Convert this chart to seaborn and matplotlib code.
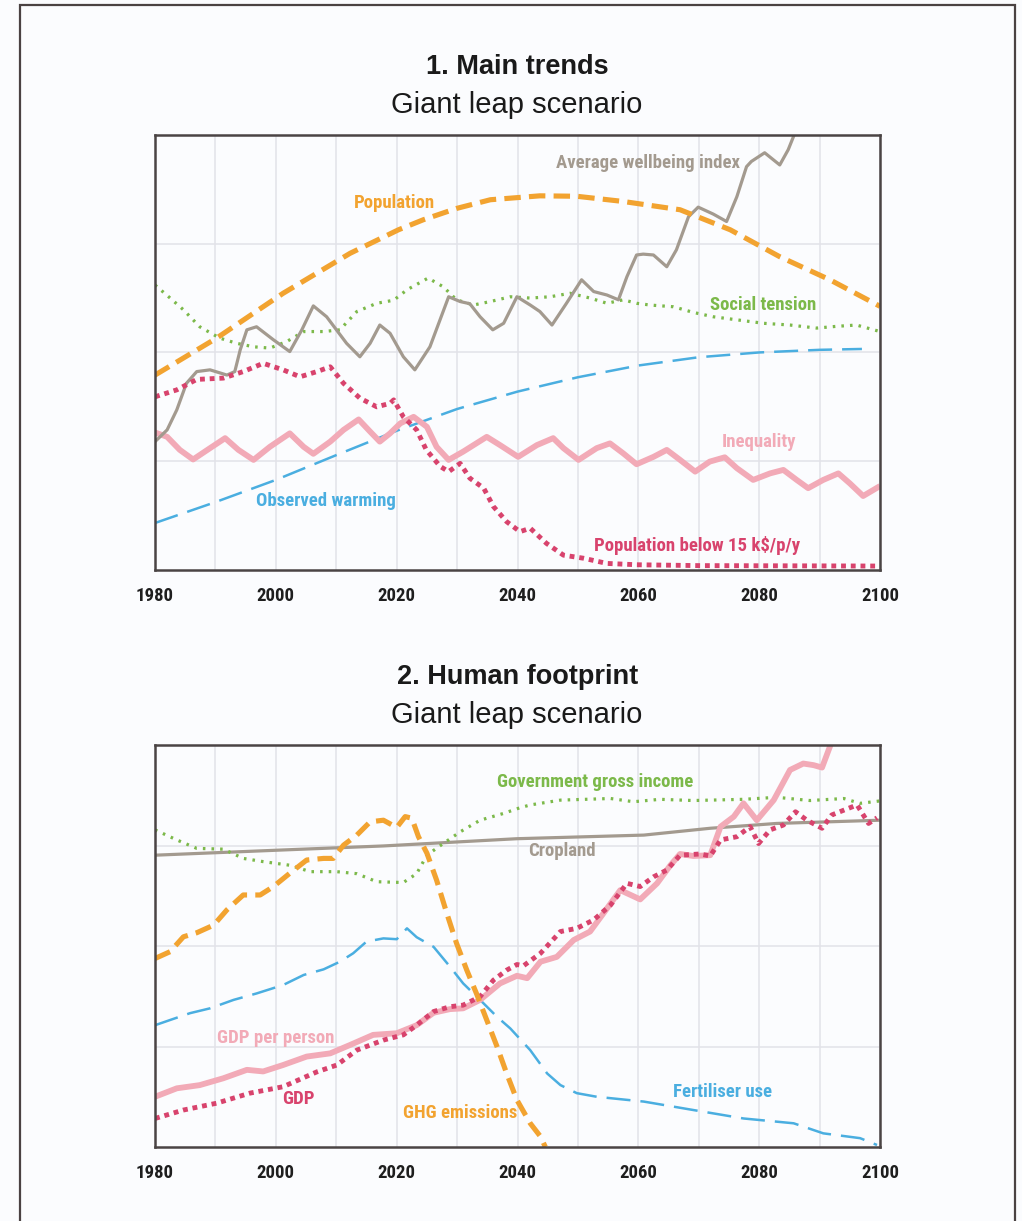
import matplotlib
matplotlib.use("Agg")
import matplotlib.pyplot as plt
from matplotlib.patches import Rectangle
import pandas as pd
import seaborn as sns

sns.set_theme(style="whitegrid")
plt.rcParams['font.family'] = ['Liberation Sans', 'DejaVu Sans']
NARROW = ['Roboto Condensed', 'IBM Plex Sans Condensed', 'Barlow Semi Condensed',
          'Asap Condensed', 'Liberation Sans']

ORANGE = '#f2a330'
GREY = '#a39a8f'
GREEN = '#7cb94a'
BLUE = '#4aaee0'
PINK = '#f2aab7'
CRIMSON = '#d8436d'
BG = '#fbfcfe'

YEAR_TICKS = [1980, 2000, 2020, 2040, 2060, 2080, 2100]

# ---------------- panel 1: main trends (index, 0-100 of plot height)
pop_years = [1980, 1990.2, 2001.2, 2012.3, 2020.3, 2024.4, 2029.9, 2035.5, 2043.7, 2049.8,
             2057.5, 2066.9, 2075.2, 2083.4, 2091.7, 2100]
pop_values = [44.8, 53.3, 63.6, 72.8, 78.2, 80.5, 83.1, 85.1, 86.0, 85.9,
              84.7, 82.8, 78.2, 72.0, 66.7, 60.6]

warm_years = [1980, 1990, 2000, 2010, 2020, 2030, 2040, 2050, 2060, 2070, 2080, 2090, 2097]
warm_values = [10.8, 15.6, 20.7, 26.4, 32.0, 37.0, 41.0, 44.3, 47.0, 48.9, 50.0, 50.6, 50.8]

tension_years = [1980, 1982.5, 1984.7, 1987.4, 1990.7, 1993.5, 1996.3, 1999, 2001.8, 2004.6,
                 2007.9, 2010.6, 2013.4, 2016.7, 2019.5, 2021.7, 2025.2, 2027.7, 2029.9, 2032.7,
                 2035.5, 2038.8, 2042.1, 2045.4, 2048.7, 2052, 2054.8, 2057.5, 2059.7, 2061.9,
                 2065.8, 2069.1, 2072.4, 2076.3, 2080.7, 2085.1, 2089.5, 2092.8, 2096.1, 2100]
tension_values = [65.5, 62.5, 59.8, 55.9, 53.3, 52.1, 51.3, 51.0, 52.5, 54.8,
                  54.8, 55.2, 59.4, 61.3, 62.0, 64.4, 67.1, 65.1, 62.1, 60.9,
                  61.7, 62.8, 62.5, 62.8, 63.6, 62.5, 61.3, 62.1, 61.3, 60.9,
                  60.5, 59.2, 58.2, 57.5, 56.7, 56.3, 55.6, 56.0, 56.3, 54.8]

wellbeing_years = [1980, 1982, 1983.6, 1985.2, 1986.9, 1989.1, 1991.9, 1993.2, 1994.1, 1995.2,
                   1996.8, 1999.6, 2002.3, 2004.3, 2006.2, 2008.4, 2011.7, 2013.9, 2015.6, 2017.2,
                   2018.9, 2021.1, 2023, 2025.5, 2028.6, 2030.5, 2032.1, 2033.8, 2035.9, 2037.7,
                   2039.9, 2042.1, 2043.7, 2045.7, 2048.1, 2050.6, 2052.6, 2054.8, 2056.7, 2058.1,
                   2059.7, 2060.8, 2062.5, 2064.7, 2066.3, 2068.3, 2069.9, 2072.4, 2074.6, 2076.3,
                   2077.9, 2078.7, 2080.9, 2083.4, 2084.8, 2085.9, 2088]
wellbeing_values = [29.5, 32.2, 36.8, 42.9, 45.6, 46.0, 44.8, 45.6, 50.6, 55.2,
                    55.9, 52.9, 50.2, 55.2, 60.7, 58.2, 52.1, 49.0, 52.1, 56.3,
                    54.4, 49.0, 46.0, 51.3, 62.8, 61.7, 61.2, 58.2, 55.2, 56.7,
                    62.8, 60.9, 59.4, 56.3, 61.3, 66.7, 64.0, 63.2, 62.1, 67.4,
                    72.4, 72.6, 72.4, 69.7, 73.6, 81.2, 83.4, 81.8, 80.1, 85.8,
                    92.7, 93.9, 95.9, 93.1, 96.6, 100.4, 110.0]

inequality_years = [1980, 1982, 1984.1, 1986.3, 1989.1, 1991.6, 1993.8, 1996.3, 1999, 2002.3,
                    2004.6, 2006.2, 2009, 2011.2, 2013.7, 2015.6, 2017.2, 2018.9, 2020.6, 2022.8,
                    2025, 2026.6, 2028.6, 2031, 2034.9, 2037.1, 2040.1, 2043.2, 2045.9, 2047.6,
                    2050.1, 2053.1, 2055.3, 2057.5, 2059.7, 2062.5, 2064.7, 2066.9, 2069.4, 2071.8,
                    2074.3, 2076.3, 2079, 2081.8, 2084, 2086.2, 2088.1, 2090.6, 2093.1, 2095,
                    2097.2, 2100]
inequality_values = [31.6, 30.6, 27.6, 25.4, 28.0, 30.3, 27.6, 25.3, 28.3, 31.4,
                     28.3, 26.7, 29.5, 32.2, 34.6, 31.8, 29.5, 31.4, 33.7, 35.2,
                     32.9, 28.3, 25.3, 27.2, 30.6, 28.7, 26.0, 28.7, 30.3, 28.0,
                     25.3, 28.0, 29.1, 26.8, 24.3, 26.0, 27.6, 25.3, 22.6, 24.9,
                     25.9, 23.4, 20.7, 22.2, 23.0, 20.7, 18.8, 20.7, 22.2, 19.9,
                     17.0, 19.3]

poor_years = [1980, 1983.6, 1986.9, 1991.3, 1994.6, 1997.9, 2001.2, 2004, 2006.8, 2009,
              2011.2, 2013.9, 2016.7, 2018.9, 2019.5, 2021.1, 2023.3, 2024.9, 2027.2, 2028.6,
              2030.5, 2032.1, 2034.4, 2036, 2038.2, 2040.4, 2042.1, 2044.8, 2047.6, 2050.9,
              2054.8, 2059.7, 2070, 2100]
poor_values = [39.8, 41.4, 43.8, 44.1, 45.6, 47.5, 46.0, 44.4, 45.6, 46.7,
               42.9, 39.5, 37.5, 38.3, 39.1, 35.2, 32.2, 27.6, 23.8, 22.6,
               24.5, 21.1, 18.8, 14.6, 11.1, 8.8, 9.6, 6.1, 3.4, 2.7,
               1.5, 1.2, 1.0, 0.9]

# ---------------- panel 2: human footprint
crop_years = [1980, 2001.2, 2017.8, 2039.9, 2060.9, 2071.9, 2082.9, 2100]
crop_values = [72.6, 73.9, 74.9, 76.7, 77.6, 79.3, 80.5, 81.3]

gov_years = [1980, 1983.6, 1986.9, 1991.3, 1994.6, 1997.9, 2002.3, 2005.7, 2010.1, 2013.4,
             2016.7, 2021.1, 2023.3, 2025, 2027.7, 2030.5, 2033.8, 2037.7, 2040.4, 2042.1,
             2047.1, 2055.4, 2059.2, 2063.6, 2069.1, 2077.4, 2082.9, 2088.4, 2094, 2096.7, 2100]
gov_values = [78.9, 76.4, 74.3, 74.1, 71.8, 71.0, 70.1, 68.5, 68.5, 68.0,
              66.0, 65.8, 68.0, 72.6, 75.5, 78.4, 81.3, 83.0, 84.4, 85.1,
              86.3, 86.7, 85.9, 86.5, 86.2, 86.5, 87.0, 86.2, 86.7, 85.5, 86.1]

ghg_years = [1980, 1982.5, 1984.7, 1986.9, 1989.7, 1991.9, 1994.6, 1997.4, 1999.6, 2002.3,
             2005.1, 2007.9, 2009.5, 2011.2, 2013.4, 2015.6, 2017.8, 2020, 2021.4, 2022.5,
             2023.6, 2025, 2026.6, 2028.3, 2029.9, 2031.6, 2033.2, 2034.9, 2036.6, 2038.2,
             2039.9, 2042.1, 2043.8, 2044.6]
ghg_values = [46.9, 48.6, 52.3, 53.3, 55.2, 59.0, 62.7, 62.7, 64.8, 68.1,
              71.4, 71.8, 71.8, 75.1, 77.6, 80.9, 81.3, 79.5, 82.2, 81.8,
              77.2, 73.1, 66.4, 58.1, 50.7, 44.0, 38.2, 31.6, 25.0, 18.3,
              11.7, 5.9, 2.6, 0.0]

fert_years = [1980, 1982.5, 1985.8, 1989.1, 1993, 1996.8, 2001.2, 2004.6, 2007.9, 2010.6,
              2012.8, 2015, 2017.8, 2020, 2021.7, 2023.3, 2026.1, 2028.8, 2031, 2033.8,
              2036.6, 2038.8, 2042.1, 2044.9, 2047.1, 2049.8, 2053.1, 2060.9, 2069.1, 2077.4,
              2085.7, 2090.6, 2096.7, 2099.5]
fert_values = [30.3, 31.6, 33.3, 34.5, 36.6, 38.2, 40.3, 42.8, 44.2, 46.1,
               48.2, 51.1, 51.9, 51.7, 54.4, 52.2, 49.8, 44.9, 40.7, 36.6,
               32.4, 29.5, 24.1, 18.3, 15.4, 13.4, 12.5, 11.3, 9.2, 7.1,
               5.9, 3.4, 2.2, 0.5]

gdppp_years = [1980, 1983.6, 1987.4, 1991.3, 1995.2, 1997.9, 2001.2, 2005.1, 2009, 2012.3,
               2016.1, 2020, 2023.3, 2026.1, 2028.8, 2031, 2033.8, 2037.1, 2039.9, 2041.6,
               2043.8, 2046.5, 2049.3, 2052, 2054.2, 2057, 2060.3, 2063.1, 2065.3, 2066.9,
               2069.1, 2071.9, 2073.6, 2075.8, 2077.4, 2079.6, 2082.4, 2085.1, 2087.3, 2089,
               2090.4, 2091.7, 2093]
gdppp_values = [12.5, 14.6, 15.4, 17.1, 19.2, 18.8, 20.4, 22.5, 23.3, 25.4,
                27.9, 28.3, 30.3, 33.4, 34.3, 34.5, 36.6, 40.7, 42.6, 42.0,
                46.1, 47.3, 51.5, 53.6, 58.1, 63.9, 61.6, 65.6, 70.1, 72.9,
                72.4, 72.6, 79.7, 82.2, 85.5, 81.3, 86.3, 93.8, 95.4, 95.0,
                94.4, 99.6, 105.0]

gdp_years = [1980, 1984.7, 1990.2, 1995.7, 2001.2, 2006.8, 2010.1, 2013.4, 2017.8, 2021.1,
             2023.3, 2026.1, 2028.8, 2031, 2033.8, 2036, 2038.2, 2039.9, 2041, 2043.8,
             2047.1, 2049.8, 2052.6, 2055.4, 2058.1, 2060.3, 2062.5, 2064.7, 2066.9, 2070.2,
             2071.9, 2073.6, 2076.3, 2078.5, 2079.9, 2081.8, 2084, 2086, 2087.9, 2090.4,
             2092, 2094, 2096.2, 2098.1, 2099.5]
gdp_values = [7.1, 9.2, 10.9, 13.4, 15.0, 18.7, 20.4, 24.1, 26.6, 27.9,
              30.3, 33.7, 34.9, 35.3, 37.4, 41.5, 44.0, 45.4, 45.1, 48.2,
              53.6, 54.4, 56.5, 60.2, 65.6, 64.8, 67.2, 68.9, 72.6, 72.9,
              72.4, 76.4, 77.2, 79.7, 75.5, 78.9, 80.1, 83.4, 81.3, 79.3,
              82.6, 83.8, 85.1, 80.5, 81.9]

# line styles (dash patterns in units of linewidth)
STYLE = {
    'orange_dash': dict(color=ORANGE, linewidth=3.7, linestyle=(0, (3.2, 1.6))),
    'blue_dash': dict(color=BLUE, linewidth=1.8, linestyle=(0, (9.6, 4.0))),
    'green_dot': dict(color=GREEN, linewidth=2.3, linestyle=(0, (0.8, 1.9))),
    'crimson_dot': dict(color=CRIMSON, linewidth=3.5, linestyle=(0, (1.0, 1.0))),
    'grey_solid': dict(color=GREY, linewidth=2.3, linestyle='-'),
    'pink_solid': dict(color=PINK, linewidth=4.2, linestyle='-'),
}


def draw(ax, years, values, style):
    df = pd.DataFrame({'ano': years, 'valor': values})
    sns.lineplot(data=df, x='ano', y='valor', ax=ax, estimator=None,
                 solid_capstyle='butt', solid_joinstyle='round', **STYLE[style])


def label(ax, x, y, text, color):
    ax.text(x, y, text, color=color, fontsize=13.5, fontweight='bold',
            family=NARROW, ha='center', va='center')


def style_axes(ax):
    ax.set_facecolor(BG)
    ax.set_xlim(1980, 2100)
    ax.set_ylim(0, 100)
    ax.set_xticks(range(1980, 2101, 10))
    ax.set_xticklabels([str(y) if y in YEAR_TICKS else '' for y in range(1980, 2101, 10)])
    ax.set_yticks([25, 50, 75])
    ax.set_yticklabels([])
    ax.grid(True, color='#e2e2e8', linewidth=1.1)
    ax.tick_params(axis='both', length=0, pad=12)
    for t in ax.get_xticklabels():
        t.set_fontfamily(NARROW)
        t.set_fontweight('bold')
        t.set_fontsize(13.5)
        t.set_color('#1e1e1e')
    ax.set_xlabel('')
    ax.set_ylabel('')
    for sp in ax.spines.values():
        sp.set_color('#4a4444')
        sp.set_linewidth(1.8)
        sp.set_visible(True)


def main():
    fig = plt.figure(figsize=(10.22, 12.21), dpi=100)
    fig.patch.set_facecolor(BG)

    # outer frame
    fig.add_artist(Rectangle((0.0196, -0.05), 0.9735, 1.0459, transform=fig.transFigure,
                             fill=False, edgecolor='#4a4242', linewidth=1.6, clip_on=False))

    # ---------------------------------------------------------- panel 1
    ax1 = fig.add_axes([0.1517, 0.5332, 0.7094, 0.3563])
    draw(ax1, warm_years, warm_values, 'blue_dash')
    draw(ax1, tension_years, tension_values, 'green_dot')
    draw(ax1, inequality_years, inequality_values, 'pink_solid')
    draw(ax1, wellbeing_years, wellbeing_values, 'grey_solid')
    draw(ax1, poor_years, poor_values, 'crimson_dot')
    draw(ax1, pop_years, pop_values, 'orange_dash')
    style_axes(ax1)
    label(ax1, 2061.6, 93.6, 'Average wellbeing index', GREY)
    label(ax1, 2019.7, 84.4, 'Population', ORANGE)
    label(ax1, 2080.6, 60.9, 'Social tension', GREEN)
    label(ax1, 2080.0, 29.4, 'Inequality', PINK)
    label(ax1, 2008.3, 15.9, 'Observed warming', BLUE)
    label(ax1, 2069.7, 5.7, 'Population below 15 k$/p/y', CRIMSON)

    fig.text(0.506, 0.9450, '1. Main trends', ha='center', va='center',
             fontsize=19.5, fontweight='bold', color='#1a1a1a')
    fig.text(0.506, 0.9140, 'Giant leap scenario', ha='center', va='center',
             fontsize=21, color='#1a1a1a')

    # ---------------------------------------------------------- panel 2
    ax2 = fig.add_axes([0.1517, 0.0606, 0.7094, 0.3292])
    draw(ax2, crop_years, crop_values, 'grey_solid')
    draw(ax2, gov_years, gov_values, 'green_dot')
    draw(ax2, fert_years, fert_values, 'blue_dash')
    draw(ax2, gdppp_years, gdppp_values, 'pink_solid')
    draw(ax2, gdp_years, gdp_values, 'crimson_dot')
    draw(ax2, ghg_years, ghg_values, 'orange_dash')
    style_axes(ax2)
    label(ax2, 2052.8, 90.8, 'Government gross income', GREEN)
    label(ax2, 2047.4, 73.6, 'Cropland', GREY)
    label(ax2, 1999.9, 27.1, 'GDP per person', PINK)
    label(ax2, 2003.7, 11.9, 'GDP', CRIMSON)
    label(ax2, 2030.5, 8.5, 'GHG emissions', ORANGE)
    label(ax2, 2073.9, 13.7, 'Fertiliser use', BLUE)

    fig.text(0.506, 0.4454, '2. Human footprint', ha='center', va='center',
             fontsize=19.5, fontweight='bold', color='#1a1a1a')
    fig.text(0.506, 0.4145, 'Giant leap scenario', ha='center', va='center',
             fontsize=21, color='#1a1a1a')

    fig.savefig('out.png', dpi=100, facecolor=BG)
    plt.close(fig)


if __name__ == "__main__":
    main()
